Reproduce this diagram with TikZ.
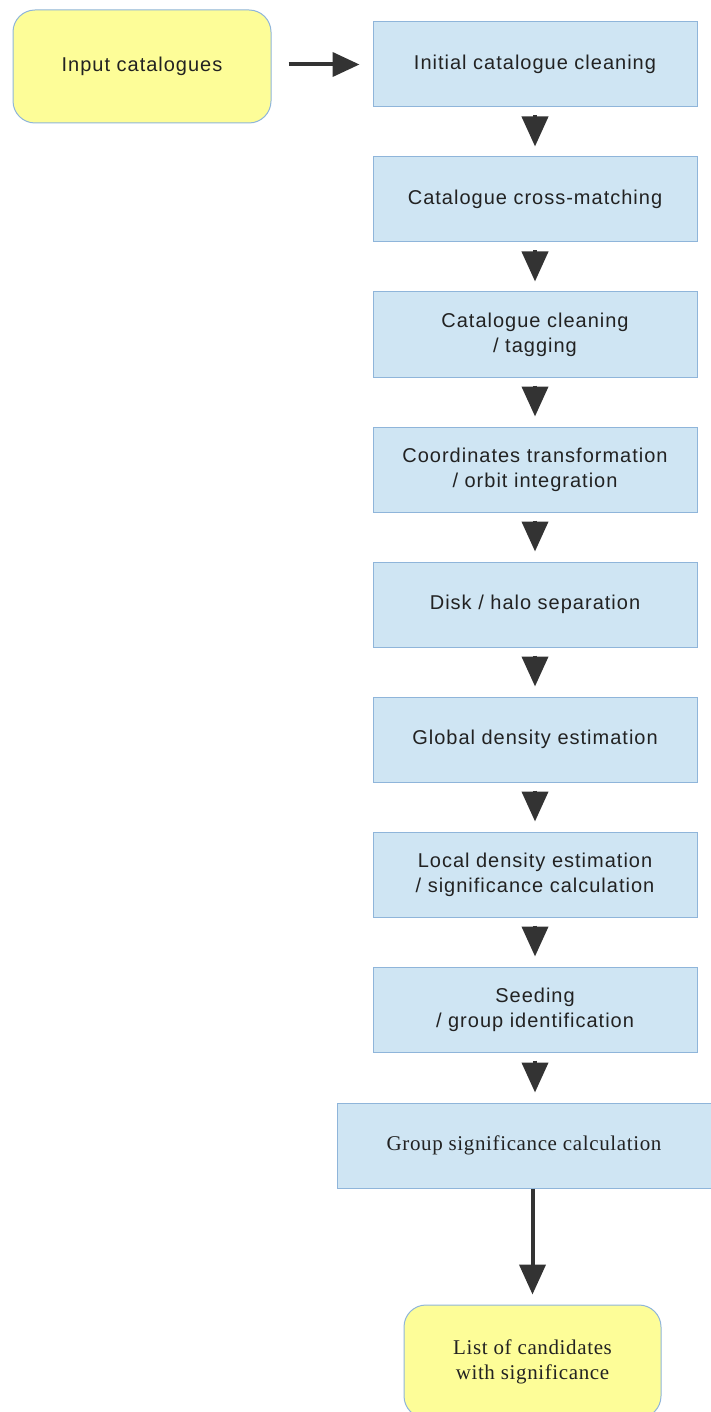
\documentclass[tikz,border=0pt]{standalone}
\usepackage{fontspec}
\setmainfont{Liberation Serif}[LetterSpace=3]
\setsansfont{Liberation Sans}[LetterSpace=5]
\usetikzlibrary{arrows.meta}
\definecolor{boxblue}{HTML}{CFE5F3}
\definecolor{boxedge}{HTML}{8FB5DA}
\definecolor{boxyellow}{HTML}{FDFD98}
\definecolor{arrowgray}{HTML}{333333}
\definecolor{txt}{HTML}{222222}
\tikzset{
  stepbox/.style={draw=boxedge, line width=1pt, fill=boxblue, minimum width=324pt, minimum height=85pt, inner sep=0pt, align=center, text=txt, font=\sffamily\fontsize{20}{25}\selectfont},
  termbox/.style={draw=boxedge, line width=1pt, fill=boxyellow, rounded corners=22pt, inner sep=0pt, align=center, text=txt},
  flow/.style={draw=arrowgray, line width=4pt, -{Triangle[length=30pt,width=26pt]}, arrowgray, shorten >=10pt},
  shortflow/.style={flow, shorten <=8pt},
}
\begin{document}
\begin{tikzpicture}[x=1pt,y=-1pt]
\useasboundingbox (0,0) rectangle (711,1412);
\clip (0,0) rectangle (711,1412);
\node[termbox, minimum width=258pt, minimum height=113pt, font=\sffamily\fontsize{20}{25}\selectfont] (in) at (142,66.5) {Input catalogues};
\node[stepbox] (b1) at (535,64.5) {Initial catalogue cleaning};
\node[stepbox] (b2) at (535,199.5) {Catalogue cross-matching};
\node[stepbox] (b3) at (535,334.5) {Catalogue cleaning\\/ tagging};
\node[stepbox] (b4) at (535,469.5) {Coordinates transformation\\/ orbit integration};
\node[stepbox] (b5) at (535,604.5) {Disk / halo separation};
\node[stepbox] (b6) at (535,739.5) {Global density estimation};
\node[stepbox] (b7) at (535,874.5) {Local density estimation\\/ significance calculation};
\node[stepbox] (b8) at (535,1009.5) {Seeding\\/ group identification};
\node[stepbox, minimum width=374pt, font=\rmfamily\fontsize{21}{25}\selectfont] (b9) at (524,1145.5) {Group significance calculation};
\node[termbox, minimum width=257pt, minimum height=113pt, font=\rmfamily\fontsize{21}{25}\selectfont] (out) at (532.5,1361.5) {List of candidates\\with significance};
\draw[flow, -{Triangle[length=27pt,width=24pt]}, shorten <=17pt, shorten >=13pt] (in.east |- b1.west) -- (b1.west);
\draw[shortflow] (b1) -- (b2);
\draw[shortflow] (b2) -- (b3);
\draw[shortflow] (b3) -- (b4);
\draw[shortflow] (b4) -- (b5);
\draw[shortflow] (b5) -- (b6);
\draw[shortflow] (b6) -- (b7);
\draw[shortflow] (b7) -- (b8);
\draw[shortflow] (b8.south) -- (b8.south |- b9.north);
\draw[flow] (b9.south -| out.north) -- (out.north);
\end{tikzpicture}
\end{document}
